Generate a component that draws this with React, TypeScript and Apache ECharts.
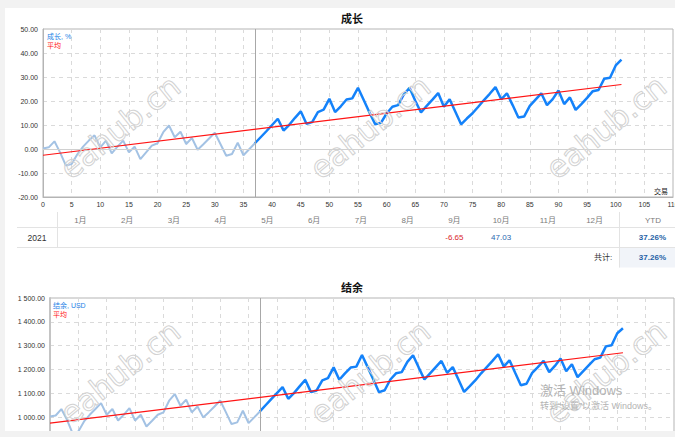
import React, { useEffect, useRef } from "react";
import * as echarts from "echarts";

const FONT = "'Liberation Sans', 'Noto Sans CJK SC', sans-serif";

// trade index where the live (bold) part begins
const SPLIT_INDEX = 37;
const X_MAX = 110;
const X_INTERVAL = 5;

// Growth, %
const GROWTH_HISTORY = [
  0.2, 0.7, 3.2, -1.5, -6.9, -6.3, -2.2, 1.0, 3.5, 5.7, 0.7, 3.5, -1.8, 1.0, 3.5, -1.4, 1.0, -4.2, -1.4, 1.4,
  2.4, 7.0, 9.8, 4.9, 7.2, 2.1, 4.6, -0.3, 2.0, 4.4, 6.8, 2.0, -2.8, -2.1, 2.6, -2.6, -0.1, 2.4,
];
const GROWTH_LIVE = [
  2.4, 4.9, 7.4, 10.0, 12.6, 7.7, 10.1, 13.0, 15.7, 10.5, 11.2, 15.4, 16.4, 20.9, 15.4, 17.8, 20.6, 21.1, 25.5,
  20.4, 15.2, 10.3, 10.9, 14.8, 17.6, 18.3, 22.7, 25.5, 20.1, 15.2, 18.0, 20.6, 23.3, 17.6, 20.7, 15.5, 10.3,
  12.7, 14.9, 17.6, 20.4, 23.0, 25.8, 20.7, 23.2, 18.3, 13.1, 13.5, 18.0, 20.6, 23.2, 18.3, 20.8, 24.4, 18.7,
  21.5, 16.3, 18.7, 21.3, 24.1, 24.6, 29.3, 29.7, 34.8, 37.26,
];
const GROWTH_AVG_X = [0, 101];
const GROWTH_AVG = [-2.6, 26.9];

// Balance, USD
const BALANCE_HISTORY = [
  1003, 1007, 1034, 989, 931, 940, 982, 1010, 1034, 1059, 1010, 1034, 986, 1010, 1038, 986, 1010, 961, 985, 1010,
  1020, 1069, 1097, 1048, 1073, 1020, 1045, 999, 1021, 1045, 1070, 1021, 971, 978, 1027, 975, 999, 1024,
];
const BALANCE_LIVE = [
  1024, 1050, 1076, 1101, 1126, 1077, 1101, 1129, 1157, 1105, 1112, 1154, 1164, 1209, 1157, 1184, 1208, 1212,
  1261, 1210, 1158, 1105, 1113, 1158, 1184, 1189, 1232, 1260, 1208, 1158, 1184, 1210, 1236, 1186, 1210, 1158,
  1106, 1130, 1155, 1184, 1210, 1236, 1264, 1212, 1239, 1186, 1134, 1140, 1186, 1210, 1236, 1189, 1215, 1246,
  1193, 1222, 1168, 1193, 1218, 1243, 1250, 1297, 1302, 1352, 1373,
];
const BALANCE_AVG = [975, 1270];

// Table
const MONTHS = ["1月", "2月", "3月", "4月", "5月", "6月", "7月", "8月", "9月", "10月", "11月", "12月"];
const YEAR = "2021";
const MONTH_VALUES = ["", "", "", "", "", "", "", "", "-6.65", "47.03", "", ""];
const YTD_LABEL = "YTD";
const YTD_VALUE = "37.26%";
const TOTAL_LABEL = "共计:";
const TOTAL_VALUE = "37.26%";

const TITLE_GROWTH = "成长";
const TITLE_BALANCE = "结余";
const LEGEND_GROWTH = "成长, %";
const LEGEND_BALANCE = "结余, USD";
const LEGEND_AVG = "平均";
const X_NAME = "交易";
const WATERMARK = "eahub.cn";

const BLUE = "#1482fa";
const LIGHT_BLUE = "#a3c2e4";
const RED = "#ff1414";

function fmtSpace(v: number) {
  const s = v.toFixed(2);
  const [i, d] = s.split(".");
  return i.replace(/\B(?=(\d{3})+(?!\d))/g, " ") + "." + d;
}

function txt(x: number, y: number, text: string, opts: any = {}) {
  const align = opts.align || "left";
  return {
    type: "text",
    x,
    y,
    z: opts.z ?? 50,
    rotation: opts.rotation || 0,
    silent: true,
    style: {
      text,
      fill: opts.fill || "#333",
      stroke: opts.stroke,
      lineWidth: opts.lineWidth,
      font: opts.font || `${opts.size || 8}px ${FONT}`,
      align,
      textAlign: align,
      verticalAlign: "middle",
      textVerticalAlign: "middle",
    },
  };
}

function hline(x1: number, x2: number, y: number, color: string) {
  return { type: "line", z: 40, silent: true, shape: { x1, y1: y, x2, y2: y }, style: { stroke: color, lineWidth: 1 } };
}
function vline(x: number, y1: number, y2: number, color: string) {
  return { type: "line", z: 40, silent: true, shape: { x1: x, y1, x2: x, y2 }, style: { stroke: color, lineWidth: 1 } };
}

export default function App() {
  const ref = useRef<HTMLDivElement>(null);

  useEffect(() => {
    if (!ref.current) return;
    const chart = echarts.init(ref.current, undefined, { renderer: "svg" });

    const histG = GROWTH_HISTORY.map((v, i) => [i, v]);
    const liveG = GROWTH_LIVE.map((v, i) => [SPLIT_INDEX + i, v]);
    const avgG = GROWTH_AVG.map((v, i) => [GROWTH_AVG_X[i], v]);
    const histB = BALANCE_HISTORY.map((v, i) => [i, v]);
    const liveB = BALANCE_LIVE.map((v, i) => [SPLIT_INDEX + i, v]);
    const avgB = BALANCE_AVG.map((v, i) => [GROWTH_AVG_X[i], v]);

    const colStart = 57;
    const colW = 46.75;
    const graphics: any[] = [];

    // titles
    graphics.push(txt(352, 19, TITLE_GROWTH, { align: "center", font: `bold 11px ${FONT}`, fill: "#111" }));
    graphics.push(txt(352, 288, TITLE_BALANCE, { align: "center", font: `bold 11px ${FONT}`, fill: "#111" }));
    // legends
    graphics.push(txt(47, 36.5, LEGEND_GROWTH, { size: 7, fill: "#1e7fe6" }));
    graphics.push(txt(47, 45.5, LEGEND_AVG, { size: 7, fill: RED }));
    graphics.push(txt(53, 305, LEGEND_BALANCE, { size: 7, fill: "#1e7fe6" }));
    graphics.push(txt(53, 314, LEGEND_AVG, { size: 7, fill: RED }));
    graphics.push(txt(668, 191, X_NAME, { size: 7, align: "right", fill: "#222" }));

    // table
    graphics.push({
      type: "rect",
      z: 30,
      silent: true,
      shape: { x: 619, y: 248, width: 60, height: 19.5 },
      style: { fill: "#f1f4f9" },
    });
    graphics.push(hline(17, 675, 227.5, "#e3e3e3"));
    graphics.push(hline(17, 675, 247.5, "#e3e3e3"));
    graphics.push(vline(57.5, 212, 247.5, "#e3e3e3"));
    graphics.push(vline(619.5, 212, 267.5, "#e3e3e3"));
    MONTHS.forEach((m, i) => {
      const cx = colStart + colW * (i + 0.5);
      graphics.push(txt(cx, 220, m, { align: "center", fill: "#7a7a7a" }));
      const v = MONTH_VALUES[i];
      if (v) {
        const neg = parseFloat(v) < 0;
        graphics.push(txt(cx, 237.5, v, { align: "center", fill: neg ? "#d9262b" : "#2a68b0" }));
      }
    });
    graphics.push(txt(653, 220, YTD_LABEL, { align: "center", fill: "#7a7a7a" }));
    graphics.push(txt(37, 237.5, YEAR, { align: "center", fill: "#333", size: 8.5 }));
    graphics.push(txt(666, 237.5, YTD_VALUE, { align: "right", fill: "#1f5fa6", font: `bold 8px ${FONT}` }));
    graphics.push(txt(603, 257.5, TOTAL_LABEL, { align: "center", fill: "#333" }));
    graphics.push(txt(666, 257.5, TOTAL_VALUE, { align: "right", fill: "#1f5fa6", font: `bold 8px ${FONT}` }));

    // watermarks
    const wmXs = [120, 370, 606];
    const wmYs = [127, 372];
    wmYs.forEach((wy) =>
      wmXs.forEach((wx) =>
        graphics.push(
          txt(wx, wy, WATERMARK, {
            align: "center",
            font: `31px 'DejaVu Sans', sans-serif`,
            fill: "rgba(0,0,0,0)",
            stroke: "#d2d2d2",
            lineWidth: 1,
            rotation: 0.68,
            z: 60,
          })
        )
      )
    );
    // OS overlay texts
    graphics.push(txt(540, 390, "激活 Windows", { size: 13, fill: "#b3b3b3", z: 70 }));
    graphics.push(txt(540, 405.5, "转到“设置”以激活 Windows。", { size: 9, fill: "#b3b3b3", z: 70 }));

    const baseX = (gridIndex: number, showLabel: boolean) => ({
      type: "value",
      gridIndex,
      min: 0,
      max: X_MAX,
      interval: X_INTERVAL,
      axisLine: { show: true, onZero: false, lineStyle: { color: "#b4b4b4" } },
      axisTick: { show: false },
      axisLabel: { show: showLabel, fontSize: 7, color: "#333", margin: 4, fontFamily: FONT },
      splitLine: { show: true, lineStyle: { color: "#dadada", type: [4, 4], width: 1 } },
    });

    const option: any = {
      animation: false,
      textStyle: { fontFamily: FONT },
      grid: [
        {
          left: 43,
          top: 29,
          width: 630,
          height: 168,
          show: true,
          borderColor: "#b4b4b4",
          borderWidth: 1,
          containLabel: false,
          outerBoundsMode: "none",
        },
        {
          left: 50,
          top: 298,
          width: 624,
          height: 143,
          show: true,
          borderColor: "#b4b4b4",
          borderWidth: 1,
          containLabel: false,
          outerBoundsMode: "none",
        },
      ],
      xAxis: [baseX(0, true), baseX(1, false)],
      yAxis: [
        {
          type: "value",
          gridIndex: 0,
          min: -20,
          max: 50,
          interval: 10,
          axisLine: { show: true, lineStyle: { color: "#b4b4b4" } },
          axisTick: { show: false },
          axisLabel: { fontSize: 7, color: "#333", margin: 5, formatter: (v: number) => v.toFixed(2) },
          splitLine: { show: true, lineStyle: { color: "#dadada", type: [4, 4], width: 1 } },
        },
        {
          type: "value",
          gridIndex: 1,
          min: 900,
          max: 1500,
          interval: 100,
          axisLine: { show: true, lineStyle: { color: "#c4c4c4", width: 2 } },
          axisTick: { show: false },
          axisLabel: {
            fontSize: 7,
            color: "#333",
            margin: 5,
            showMinLabel: false,
            formatter: (v: number) => fmtSpace(v),
          },
          splitLine: { show: true, lineStyle: { color: "#dadada", type: [4, 4], width: 1 } },
        },
      ],
      series: [
        {
          type: "line",
          xAxisIndex: 0,
          yAxisIndex: 0,
          data: histG,
          symbol: "none",
          lineStyle: { color: LIGHT_BLUE, width: 2 },
          z: 3,
          markLine: {
            silent: true,
            symbol: "none",
            label: { show: false },
            data: [
              { yAxis: 0, lineStyle: { color: "#d0d0d0", type: "solid", width: 1 } },
              { xAxis: SPLIT_INDEX, lineStyle: { color: "#a8a8a8", type: "solid", width: 1 } },
            ],
          },
        },
        {
          type: "line",
          xAxisIndex: 0,
          yAxisIndex: 0,
          data: liveG,
          symbol: "none",
          lineStyle: { color: BLUE, width: 2.5 },
          z: 4,
        },
        {
          type: "line",
          xAxisIndex: 0,
          yAxisIndex: 0,
          data: avgG,
          symbol: "none",
          lineStyle: { color: RED, width: 1.1 },
          z: 5,
        },
        {
          type: "line",
          xAxisIndex: 1,
          yAxisIndex: 1,
          data: histB,
          symbol: "none",
          lineStyle: { color: LIGHT_BLUE, width: 2 },
          z: 3,
          markLine: {
            silent: true,
            symbol: "none",
            label: { show: false },
            data: [{ xAxis: SPLIT_INDEX, lineStyle: { color: "#a8a8a8", type: "solid", width: 1 } }],
          },
        },
        {
          type: "line",
          xAxisIndex: 1,
          yAxisIndex: 1,
          data: liveB,
          symbol: "none",
          lineStyle: { color: BLUE, width: 2.5 },
          z: 4,
        },
        {
          type: "line",
          xAxisIndex: 1,
          yAxisIndex: 1,
          data: avgB,
          symbol: "none",
          lineStyle: { color: RED, width: 1.1 },
          z: 5,
        },
      ],
      graphic: { elements: graphics },
    };

    chart.setOption(option);
    return () => chart.dispose();
  }, []);

  return (
    <div
      style={{
        position: "fixed",
        left: 0,
        top: 0,
        width: 675,
        height: 437,
        background: "#f2f2f2",
        overflow: "hidden",
      }}
    >
      <div style={{ position: "absolute", left: 5, top: 8, width: 670, height: 423, background: "#fff" }} />
      <div ref={ref} style={{ position: "absolute", left: 0, top: 0, width: 675, height: 431 }} />
    </div>
  );
}
